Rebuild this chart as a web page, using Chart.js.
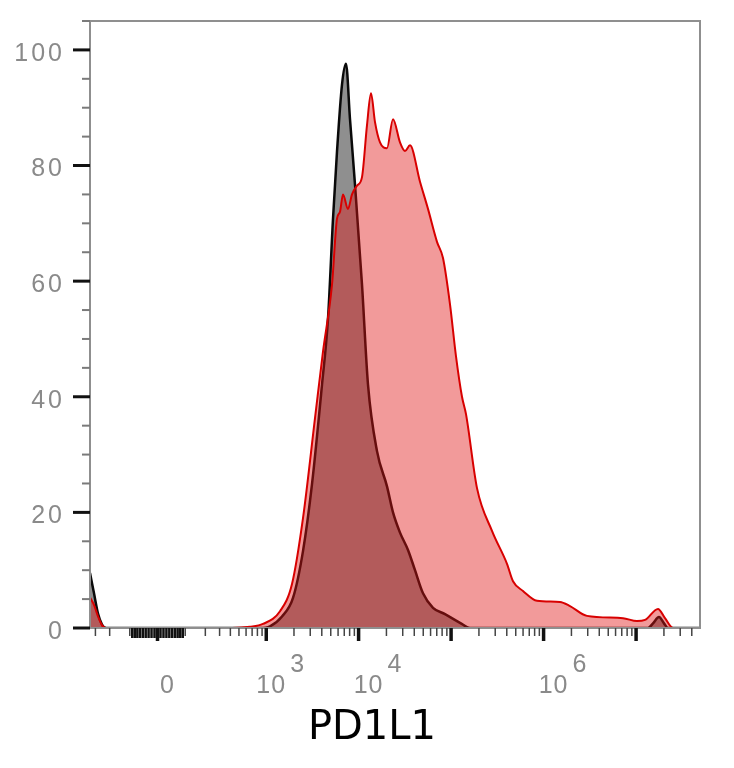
<!DOCTYPE html>
<html lang="en">
<head>
<meta charset="UTF-8">
<title>PD1L1 histogram</title>
<script src="https://cdn.jsdelivr.net/npm/chart.js"></script>
<style>
  html, body { margin: 0; padding: 0; background: #fff; }
</style>
</head>
<body>
<canvas id="hist" width="734" height="768"></canvas>
<script>
// Histograms in display channels (0..244), counts as % of max
const isoChannels = [0, 1.6, 3.2, 4.8, 6.4, 68, 72, 76.8, 81.2, 85.2, 88.8, 92.8, 95.2, 97.2, 98.8,
  100.8, 102.4, 104, 106, 108.8, 111.2, 114.8, 118.8, 121.2, 124, 127.2, 130, 133.2, 137.2, 142,
  148, 152, 223.2, 225.2, 227.6, 229.6, 231.2, 244];
const isoCounts = [9.5, 6, 2.5, 0.6, 0, 0, 0.3, 2, 5.2, 13.3, 24.9, 42.1, 53.5, 70.8, 82.4,
  94, 97.6, 88, 76.7, 59.4, 42.1, 30.6, 24.5, 20, 16.5, 13.5, 10, 6, 3.5, 2.4,
  0.9, 0, 0, 0.8, 1.9, 0.8, 0, 0];

const pdChannels = [0, 1.6, 3.2, 4.8, 6.4, 56.8, 64, 69.2, 76, 80.8, 85.2, 90, 93.2, 96.8, 98.8,
  100, 101.2, 103.2, 104.8, 106.8, 108.8, 110.8, 112.4, 114, 116, 118.8, 121.2, 124, 126, 128,
  132, 135.2, 138.8, 141.2, 144, 146.4, 148.8, 150.4, 154.8, 160.8, 166.8, 169.2, 173.2, 178.8, 188,
  192, 198.8, 213.2, 218.8, 222, 227.2, 230, 233.2, 244];
const pdCounts = [5.3, 4, 2, 0.5, 0, 0, 0.2, 0.7, 2.9, 7.6, 19, 36.3, 47.8, 59.4, 70.8,
  72, 75, 72.5, 75, 76.5, 78, 87, 92.5, 87.5, 84, 83, 88, 84, 82.5, 83.5,
  77.2, 72.5, 66.8, 64, 56, 47, 40, 37, 24.2, 16.8, 11.1, 8.1, 6.4, 4.7, 4.5,
  3.8, 2.1, 1.7, 1.2, 1.4, 3.3, 1.7, 0, 0];

// axis ticks
const yMajorTicks = [0, 20, 40, 60, 80, 100];
const yMinorStep = 5;
const xMajorValues = [0, 1e3, 1e4, 1e5, 1e6, 1e7];
const xLabelValues = [0, 1e3, 1e4, 1e6];
const xLabelBase = ['0', '10', '10', '10'];
const xLabelExp = ['', '3', '4', '6'];

// biexponential-like display transform: value -> channel
const ZERO_CH = 27, DECADE_CH = 37, COFACTOR = 134;
function toChannel(v) {
  return ZERO_CH + DECADE_CH * Math.asinh(v / COFACTOR) / Math.LN10;
}

function xMinorValues() {
  const out = [];
  for (let e = 1; e <= 7; e++) {
    for (let m = 1; m <= 9; m++) {
      const v = m * Math.pow(10, e);
      if (m === 1 && e >= 3) continue;
      out.push(v);
      if (e <= 2) out.push(-v);
    }
  }
  return out;
}

const axisDecor = {
  id: 'axisDecor',
  afterDraw(chart) {
    const { ctx, chartArea: a, scales: { x, y } } = chart;
    ctx.save();

    // frame
    ctx.strokeStyle = '#8f8f8f';
    ctx.lineWidth = 2;
    ctx.strokeRect(a.left, a.top, a.right - a.left, a.bottom - a.top);

    // y ticks
    for (let v = 0; v <= y.max; v += yMinorStep) {
      const py = y.getPixelForValue(v);
      const major = yMajorTicks.includes(v);
      ctx.strokeStyle = major ? '#111' : '#7a7a7a';
      ctx.lineWidth = major ? 3 : 2;
      ctx.beginPath();
      ctx.moveTo(a.left - (major ? 17 : 8), py);
      ctx.lineTo(a.left, py);
      ctx.stroke();
    }

    // x ticks
    const tick = (v, len, width, color) => {
      const px = x.getPixelForValue(toChannel(v));
      if (px < a.left || px > a.right) return;
      ctx.strokeStyle = color;
      ctx.lineWidth = width;
      ctx.beginPath();
      ctx.moveTo(px, a.bottom);
      ctx.lineTo(px, a.bottom + len);
      ctx.stroke();
    };
    xMinorValues().forEach(v => {
      if (Math.abs(v) < 100) tick(v, 10, 2.5, '#111');
      else tick(v, 8, 1.5, '#444');
    });
    xMajorValues.forEach(v => tick(v, 13, 3.5, '#111'));

    // tick labels
    ctx.font = '25px "Liberation Sans", Arial, sans-serif';
    ctx.fillStyle = '#8a8a8a';
    ctx.letterSpacing = '3px';
    ctx.textAlign = 'right';
    ctx.textBaseline = 'middle';
    yMajorTicks.forEach(v => {
      ctx.fillText(String(v), 65, y.getPixelForValue(v) + 4);
    });

    ctx.letterSpacing = '1px';
    ctx.textBaseline = 'alphabetic';
    xLabelValues.forEach((v, i) => {
      const cx = x.getPixelForValue(toChannel(v)) + (v === 1e3 ? 5 : 10);
      ctx.textAlign = 'center';
      ctx.fillText(xLabelBase[i], cx, 693);
      if (xLabelExp[i]) {
        const w = ctx.measureText(xLabelBase[i]).width;
        ctx.textAlign = 'left';
        ctx.fillText(xLabelExp[i], cx + w / 2 + 4, 672);
      }
    });

    // axis title
    ctx.letterSpacing = '0px';
    ctx.font = '40px "DejaVu Sans", sans-serif';
    ctx.fillStyle = '#000';
    ctx.textAlign = 'center';
    ctx.fillText('PD1L1', 372, 739);

    ctx.restore();
  }
};

const toPoints = (xs, ys) => xs.map((c, i) => ({ x: c, y: ys[i] }));

new Chart(document.getElementById('hist'), {
  type: 'line',
  data: {
    datasets: [
      {
        label: 'PD1L1',
        data: toPoints(pdChannels, pdCounts),
        borderColor: '#d80000',
        backgroundColor: 'rgba(225, 20, 20, 0.43)',
        borderWidth: 2,
        fill: 'origin',
        pointRadius: 0,
        cubicInterpolationMode: 'monotone',
        order: 0
      },
      {
        label: 'Isotype',
        data: toPoints(isoChannels, isoCounts),
        borderColor: '#0a0a0a',
        backgroundColor: 'rgba(0, 0, 0, 0.44)',
        borderWidth: 2.5,
        fill: 'origin',
        pointRadius: 0,
        cubicInterpolationMode: 'monotone',
        order: 1
      }
    ]
  },
  options: {
    responsive: false,
    animation: false,
    layout: { padding: { left: 90, right: 34, top: 21, bottom: 140 } },
    scales: {
      x: { type: 'linear', min: 0, max: 244, display: false },
      y: { min: 0, max: 105, display: false }
    },
    plugins: {
      legend: { display: false },
      tooltip: { enabled: false }
    }
  },
  plugins: [axisDecor]
});
</script>
</body>
</html>
